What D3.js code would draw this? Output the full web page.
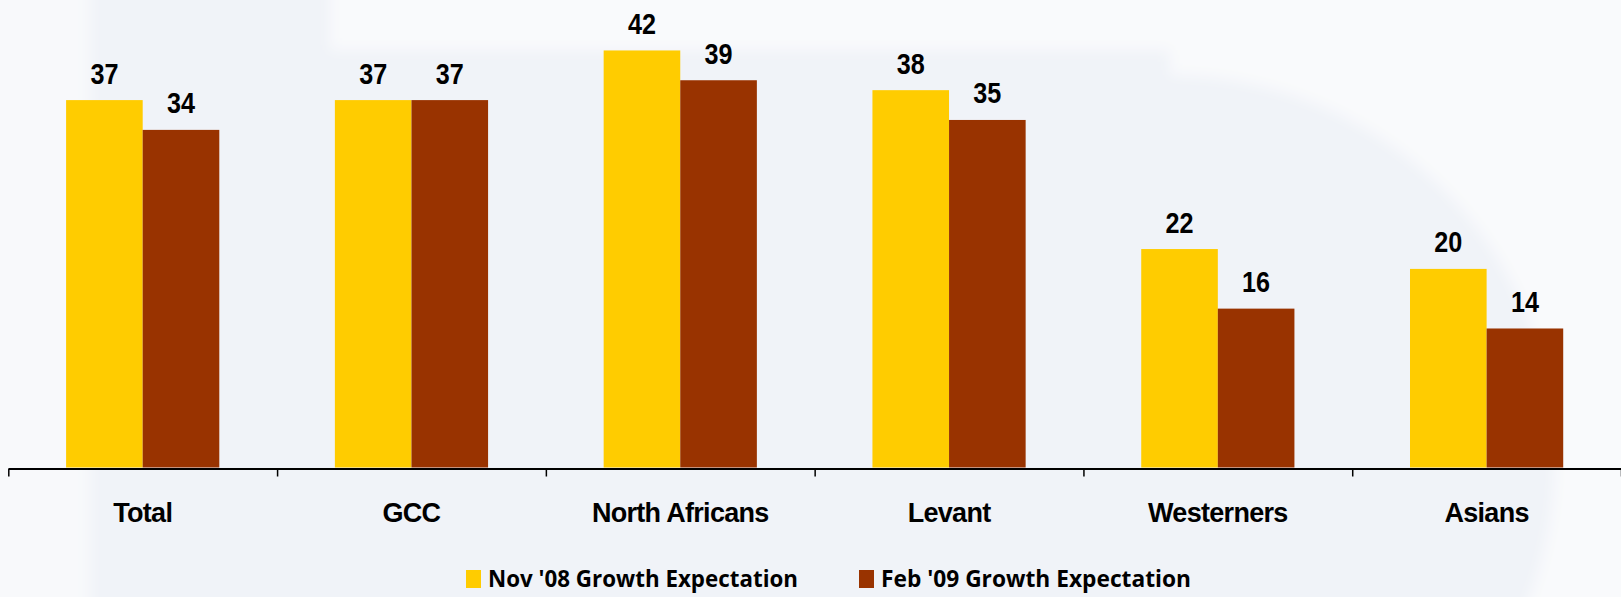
<!DOCTYPE html>
<html>
<head>
<meta charset="utf-8">
<script src="https://cdn.jsdelivr.net/npm/d3@7"></script>
<style>
  html, body { margin: 0; padding: 0; background: #f8f9fb; }
  svg { display: block; }
</style>
</head>
<body>
<svg id="chart" width="1621" height="597"></svg>
<script>
// Growth expectation by nationality group
const categories = ["Total", "GCC", "North Africans", "Levant", "Westerners", "Asians"];
const seriesNames = ["Nov '08 Growth Expectation", "Feb '09 Growth Expectation"];
const nov08 = [37, 37, 42, 38, 22, 20];
const feb09 = [34, 37, 39, 35, 16, 14];
const seriesColors = ["#FFCC00", "#993300"];

const W = 1621, H = 597;
const svg = d3.select("#chart");

// Soft backdrop
const defs = svg.append("defs");
defs.append("filter").attr("id", "soft")
  .attr("x", "-10%").attr("y", "-10%").attr("width", "120%").attr("height", "120%")
  .append("feGaussianBlur").attr("stdDeviation", 7);
defs.append("clipPath").attr("id", "rightSide")
  .append("rect").attr("x", 1170).attr("y", -20).attr("width", W).attr("height", H + 40);

const bg = svg.append("g").attr("filter", "url(#soft)");
bg.append("rect").attr("x", -20).attr("y", -20).attr("width", W + 40).attr("height", H + 40).attr("fill", "#f0f3f8");
bg.append("rect").attr("x", -20).attr("y", -20).attr("width", 110).attr("height", H + 40).attr("fill", "#f8f9fb");
bg.append("rect").attr("x", 330).attr("y", -20).attr("width", W).attr("height", 70).attr("fill", "#f9fafc");
bg.append("g").attr("clip-path", "url(#rightSide)")
  .append("path")
  .attr("fill", "#f9fafc")
  .attr("fill-rule", "evenodd")
  .attr("d", `M1170,-20 L${W + 20},-20 L${W + 20},${H + 20} L1170,${H + 20} Z
              M785,460 a385,385 0 1,0 770,0 a385,385 0 1,0 -770,0 Z`);

// Scales
const x0 = d3.scaleBand().domain(categories).range([8.3, W])
  .paddingInner(0.43).paddingOuter(0.215);
const x1 = d3.scaleBand().domain(seriesNames).range([0, x0.bandwidth()]);
const y = d3.scaleLinear().domain([0, 47]).range([467.5, 0.8]);

const rows = categories.map((c, i) => ({ cat: c, vals: [nov08[i], feb09[i]] }));

// Bars
const groups = svg.append("g").selectAll("g").data(rows).join("g")
  .attr("transform", d => `translate(${x0(d.cat)},0)`);

groups.selectAll("rect")
  .data(d => d.vals.map((v, k) => ({ k, v })))
  .join("rect")
  .attr("x", d => x1(seriesNames[d.k]))
  .attr("width", x1.bandwidth())
  .attr("y", d => y(d.v))
  .attr("height", d => y(0) - y(d.v))
  .attr("fill", d => seriesColors[d.k]);

// Value labels (condensed bold digits)
groups.selectAll("text")
  .data(d => d.vals.map((v, k) => ({ k, v })))
  .join("text")
  .attr("transform", d => `translate(${x1(seriesNames[d.k]) + x1.bandwidth() / 2},${y(d.v) - 16.5}) scale(0.84,1)`)
  .attr("text-anchor", "middle")
  .style("font-family", "'Liberation Sans', Arial, sans-serif")
  .style("font-weight", "bold")
  .style("font-size", "30px")
  .attr("fill", "#000")
  .text(d => d.v);

// Axis line with boundary ticks
const boundary = d3.scaleLinear().domain([0, categories.length]).range([8.3, W]);
const axisG = svg.append("g").attr("transform", `translate(0,${y(0) + 1})`)
  .call(d3.axisBottom(boundary).ticks(categories.length).tickSize(8).tickSizeOuter(0).tickFormat(""));
axisG.select(".domain").attr("stroke", "#000").attr("stroke-width", 2);
axisG.selectAll(".tick line").attr("stroke", "#000").attr("stroke-width", 1.5);

// Category labels
const catAxis = svg.append("g").attr("transform", `translate(0,${y(0)})`)
  .call(d3.axisBottom(x0).tickSize(0).tickPadding(0));
catAxis.select(".domain").remove();
catAxis.selectAll("text")
  .attr("y", 54.5)
  .attr("dy", null)
  .style("font-family", "'Liberation Sans', Arial, sans-serif")
  .style("font-weight", "bold")
  .style("font-size", "27px")
  .style("letter-spacing", "-0.7px")
  .attr("fill", "#000");

// Legend
const legendX = [466, 859];
const legend = svg.append("g").selectAll("g").data(seriesNames).join("g")
  .attr("transform", (d, i) => `translate(${legendX[i]},570)`);
legend.append("rect").attr("width", 15).attr("height", 18)
  .attr("fill", (d, i) => seriesColors[i]);
legend.append("text")
  .attr("x", 22).attr("y", 17)
  .attr("textLength", 310).attr("lengthAdjust", "spacingAndGlyphs")
  .style("font-family", "'Open Sans', Lato, sans-serif")
  .style("font-weight", "bold")
  .style("font-size", "23px")
  .attr("fill", "#000")
  .text(d => d);
</script>
</body>
</html>
